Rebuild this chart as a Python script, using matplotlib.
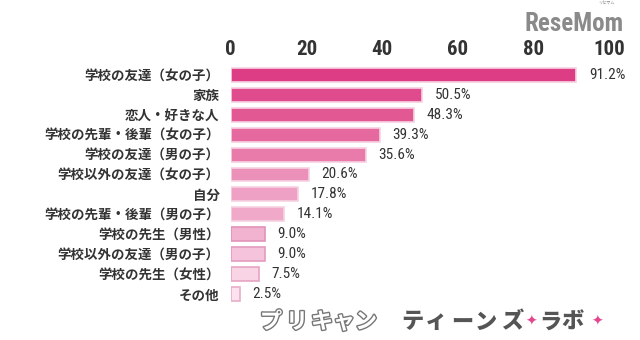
import matplotlib
matplotlib.use('Agg')
from matplotlib import pyplot as plt
import matplotlib.patheffects as pe
from matplotlib import font_manager

# survey answers, top to bottom
categories = ['学校の友達（女の子）', '家族', '恋人・好きな人', '学校の先輩・後輩（女の子）',
              '学校の友達（男の子）', '学校以外の友達（女の子）', '自分', '学校の先輩・後輩（男の子）',
              '学校の先生（男性）', '学校以外の友達（男の子）', '学校の先生（女性）', 'その他']
values = [91.2, 50.5, 48.3, 39.3, 35.6, 20.6, 17.8, 14.1, 9.0, 9.0, 7.5, 2.5]
bar_colors = ['#DC3D85', '#DF4B8D', '#E25893', '#E5689E', '#E87BAA', '#EB90B8',
              '#EEA1C4', '#F0A9C9', '#F2B3D0', '#F5C3DB', '#F8D4E5', '#FBE2EE']
edge_colors = ['#F6D2E2'] * 8 + ['#E093B8', '#E39CBE', '#E5A5C4', '#E7AECA']
xticks = [0, 20, 40, 60, 80, 100]

jp = ['Noto Sans CJK JP', 'DejaVu Sans']
names = set(f.name for f in font_manager.fontManager.ttflist)
narrow_name = 'DejaVu Sans'
for cand in ['Liberation Sans Narrow', 'DejaVu Sans Condensed', 'Roboto Condensed']:
    if cand in names:
        narrow_name = cand
        break
narrow = [narrow_name, 'DejaVu Sans']

fig = plt.figure(figsize=(6.4, 3.4), dpi=100)
ax = fig.add_axes([0.3605, 0.106, 0.592, 0.703])

ypos = list(range(len(values)))
ax.barh(ypos, values, height=0.7, color=bar_colors, edgecolor=edge_colors, linewidth=1.2)

for y, v in zip(ypos, values):
    ax.annotate('%.1f%%' % v, (v, y), xytext=(9, 0), textcoords='offset points',
                va='center', ha='left', fontsize=11, color='#333333', family=narrow,
                fontstretch='condensed')

ax.set_xlim(0, 100)
ax.set_ylim(len(values) - 0.5, -0.5)
ax.xaxis.tick_top()
ax.set_xticks(xticks)
ax.set_xticklabels([str(t) for t in xticks], family=narrow, fontsize=15,
                   fontweight='bold', color='#333333', fontstretch='condensed')
ax.set_yticks(ypos)
ax.set_yticklabels(categories, family=jp, fontsize=9.7, fontweight='bold', color='#333333')
ax.tick_params(axis='both', length=0)
ax.tick_params(axis='x', pad=4)
ax.tick_params(axis='y', pad=8)
for s in ax.spines.values():
    s.set_visible(False)

# logo top right
fig.text(0.897, 0.93, 'ReseMom', ha='center', va='center', fontsize=18,
         fontweight='bold', color='#8A8A8A', family=narrow, fontstretch='condensed')
fig.text(0.948, 0.99, 'リセマム', ha='center', va='center', fontsize=3,
         color='#8A8A8A', family=jp)

# footer brand, one glyph at a time for the wide letter spacing
footer_y = 0.053
outline_chars = ['プ', 'リ', 'キ', 'ャ', 'ン']
outline_x = [271, 297, 322, 344, 366]
solid_chars = ['テ', 'ィ', 'ー', 'ン', 'ズ', 'ラ', 'ボ']
solid_x = [412, 436, 462, 486, 512, 550, 572]
star_x = [531, 597]
for ch, x in zip(outline_chars, outline_x):
    fig.text(x / 640, footer_y, ch, ha='center', va='center', fontsize=16, family=jp,
             color='white', fontweight='bold',
             path_effects=[pe.Stroke(linewidth=2, foreground='#777777'), pe.Normal()])
for ch, x in zip(solid_chars, solid_x):
    fig.text(x / 640, footer_y, ch, ha='center', va='center', fontsize=16, family=jp,
             color='#555555', fontweight='heavy')
for x in star_x:
    fig.text(x / 640, footer_y, '✦', ha='center', va='center', fontsize=10, color='#E2478E')

fig.savefig('out.png', dpi=100, facecolor='white')
